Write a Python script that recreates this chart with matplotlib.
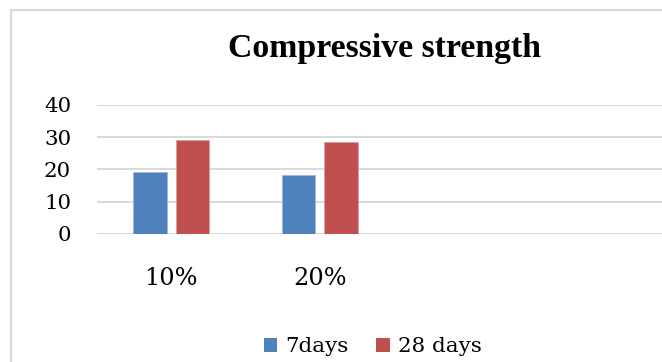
import matplotlib
matplotlib.use("Agg")
import matplotlib.pyplot as plt
from matplotlib.patches import Rectangle, Patch
import numpy as np

# Data
categories = ["10%", "20%"]
series_names = ["7days", "28 days"]
days7 = [19.2, 18.3]
days28 = [29.0, 28.5]
y_ticks = [0, 10, 20, 30, 40]

colors = ["#4F81BD", "#C0504D"]
body_font = "DejaVu Serif"
title_font = "Liberation Serif"

W, H = 662, 362
fig = plt.figure(figsize=(W / 100, H / 100), dpi=100)
fig.patch.set_facecolor("white")

# chart frame (continues past the right and bottom edges)
fig.patches.append(Rectangle((10.5 / W, -0.2), 1.5, 1.2 - 10 / H,
                             transform=fig.transFigure, fill=False,
                             edgecolor="#D9D9D9", linewidth=1.5, zorder=0))

left_px, top_px, bottom_px = 96.7, 105.0, 233.7
ax = fig.add_axes([left_px / W, 1 - bottom_px / H,
                   1 - left_px / W, (bottom_px - top_px) / H])
ax.set_facecolor("none")

cat_px = 148.8
x = np.arange(len(categories))
bw = 0.225
off = 0.1426
ax.bar(x - off, days7, width=bw, color=colors[0], edgecolor="#9DB6DA",
       linewidth=0.6, zorder=3)
ax.bar(x + off, days28, width=bw, color=colors[1], edgecolor="#DE9D9B",
       linewidth=0.6, zorder=3)

ax.set_ylim(0, 40)
ax.set_xlim(-0.5, (W - left_px) / cat_px - 0.5)
ax.set_yticks(y_ticks)
ax.set_yticklabels([str(v) for v in y_ticks], fontfamily=body_font,
                   fontsize=15.4)
ax.set_xticks(x)
ax.set_xticklabels(categories, fontfamily=body_font, fontsize=17.3)
ax.tick_params(axis="y", length=0, pad=18.5)
ax.tick_params(axis="x", length=0, pad=24)
ax.grid(axis="y", color="#D9D9D9", linewidth=1.4, zorder=0)
for s in ax.spines.values():
    s.set_visible(False)
ax.set_axisbelow(True)

fig.text(384 / W, 1 - 56.7 / H, "Compressive strength", ha="center",
         va="baseline", fontfamily=title_font, fontweight="bold",
         fontsize=24.3)

handles = [Patch(facecolor=c, edgecolor="none") for c in colors]
fig.legend(handles, series_names, loc="center",
           bbox_to_anchor=(372.5 / W, 1 - 347 / H), ncol=2, frameon=False,
           prop={"family": body_font, "size": 15.4}, handlelength=0.65,
           handleheight=0.65, handletextpad=0.35, columnspacing=1.3)

fig.savefig("out.png", dpi=100)
